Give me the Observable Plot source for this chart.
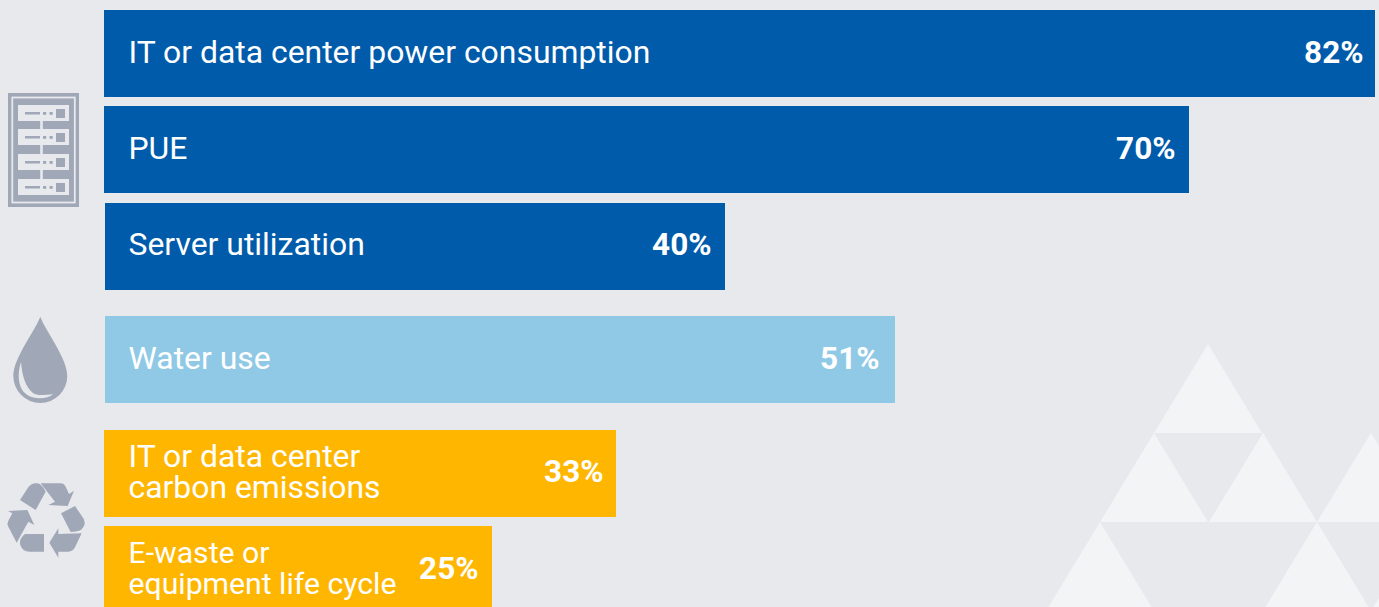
<!DOCTYPE html>
<html><head><meta charset="utf-8">
<script src="https://cdn.jsdelivr.net/npm/d3@7"></script>
<script src="https://cdn.jsdelivr.net/npm/@observablehq/plot@0.6"></script>
<style>
html,body{margin:0;padding:0;background:#e8e9ed;overflow:hidden;width:1379px;height:607px}
svg{display:block}
</style></head><body><div id="chart"></div>
<script>
const labels = ["IT or data center power consumption","PUE","Server utilization","Water use","IT or data center\ncarbon emissions","E-waste or\nequipment life cycle"];
const values = [82,70,40,51,33,25];
const groups = ["power","power","power","water","carbon","carbon"];
const groupNames = ["power","water","carbon"];
const groupColors = ["#005baa","#8fc9e6","#ffb600"];
const ICON = "#a0a7b6", BG = "#e8e9ed", TRI = "#f3f4f6";
const groupGap = 0.179, barHalf = 0.4517;
// small hand adjustments to the printed layout, by row
const valueInset = [12,14,13,16,13,14];
const barNudge = [0,0,1,0,0,0];
const startInset = [0,0,0,1,0,0];
const smallLabel = [false,false,false,false,false,true];

const rows = labels.map((label,i)=>({i,label,value:values[i],group:groups[i],
  pos:i+groupGap*groupNames.indexOf(groups[i])}));

const NS="http://www.w3.org/2000/svg";
const el=(tag,attrs,parent)=>{const e=document.createElementNS(NS,tag);for(const k in attrs)e.setAttribute(k,attrs[k]);if(parent)parent.appendChild(e);return e;};

function backdrop(){
  const g=el("g",{fill:TRI});
  const apexes=[[1208,344],[1154,433],[1263,433],[1371,433],[1100,522],[1317,522],[1425,522]];
  for(const [x,y] of apexes) el("path",{d:`M${x} ${y}L${x+54} ${y+89}L${x-54} ${y+89}Z`},g);
  return g;
}
function icons(){
  const g=el("g",{});
  // server rack
  el("rect",{x:8,y:93,width:71,height:114,fill:ICON},g);
  el("rect",{x:12.3,y:97.5,width:62.5,height:105,fill:"none",stroke:BG,"stroke-width":1.8},g);
  [105,129,154,179].forEach((y,i)=>{
    el("rect",{x:18,y,width:51,height:16,fill:BG},g);
    el("rect",{x:25,y:y+7,width:15,height:2.5,fill:ICON},g);
    el("rect",{x:43,y:y+7,width:3.2,height:2.8,fill:ICON},g);
    el("rect",{x:49.5,y:y+7,width:3.2,height:2.8,fill:ICON},g);
    el("rect",{x:56,y:y+4,width:9,height:9,fill:ICON},g);
    if(i<3) el("rect",{x:40.2,y:y+16,width:2.6,height:9,fill:BG},g);
  });
  // water drop
  el("path",{fill:ICON,d:"M40.3 316.7C35 331 13.3 358 13.3 376A27 27 0 0 0 67.3 376C67.3 358 45.5 331 40.3 316.7Z"},g);
  el("path",{fill:BG,d:"M21 362C17 374 18 388 26 394C33 399.5 46 400 53.3 394.3C44 395 37 396 33 393C26 388 22 376 21 362Z"},g);
  // recycling symbol
  const r=el("g",{fill:ICON,transform:"translate(0,470) scale(0.3333)"},g);
  const shapes=[
    "M60 90L85 52Q95 38 112 40Q126 42 137 65L107 120Z",
    "M122 40L182 40Q192 40 197 50L207 72L222 62L203 108L145 105L165 95Z",
    "M183 130L225 108L250 145Q260 165 245 178Q235 186 212 186Z",
    "M245 190L225 232Q218 245 205 245L175 245L175 263L148 218L175 175L175 192Z",
    "M132 192L132 245L90 245Q65 245 60 222Q58 205 75 192Z",
    "M50 218L25 170Q20 160 25 152L37 130L24 123L82 120L103 165L85 155Z"
  ];
  shapes.forEach(d=>el("path",{d},r));
  return g;
}

const font="Roboto, sans-serif";
const chart=Plot.plot({
  width:1379,height:607,margin:0,
  style:{background:BG},
  x:{domain:[0,82],range:[104,1375.01],round:true,axis:null},
  y:{domain:[0,5+2*groupGap],range:[53.5,569.5],round:true,axis:null},
  color:{domain:groupNames,range:groupColors},
  marks:[
    backdrop,
    icons,
    rows.map(r=>Plot.rect([r],{x1:()=>0,x2:"value",y1:d=>d.pos-barHalf,y2:d=>d.pos+barHalf,fill:"group",
      dx:barNudge[r.i],insetLeft:startInset[r.i]})),
    rows.map(r=>Plot.text([r],{x:()=>0,y:"pos",text:"label",dx:24,dy:smallLabel[r.i]?-2:-1,textAnchor:"start",lineAnchor:"middle",
      lineHeight:smallLabel[r.i]?1.03:0.97,fill:"white",fontFamily:font,fontSize:smallLabel[r.i]?30.2:31.9,fontWeight:400})),
    rows.map(r=>Plot.text([r],{x:"value",y:"pos",text:d=>d.value+"%",dx:-valueInset[r.i],dy:-2,textAnchor:"end",lineAnchor:"middle",
      fill:"white",fontFamily:font,fontSize:31.5,fontWeight:700}))
  ]
});
document.getElementById("chart").appendChild(chart);
</script></body></html>
